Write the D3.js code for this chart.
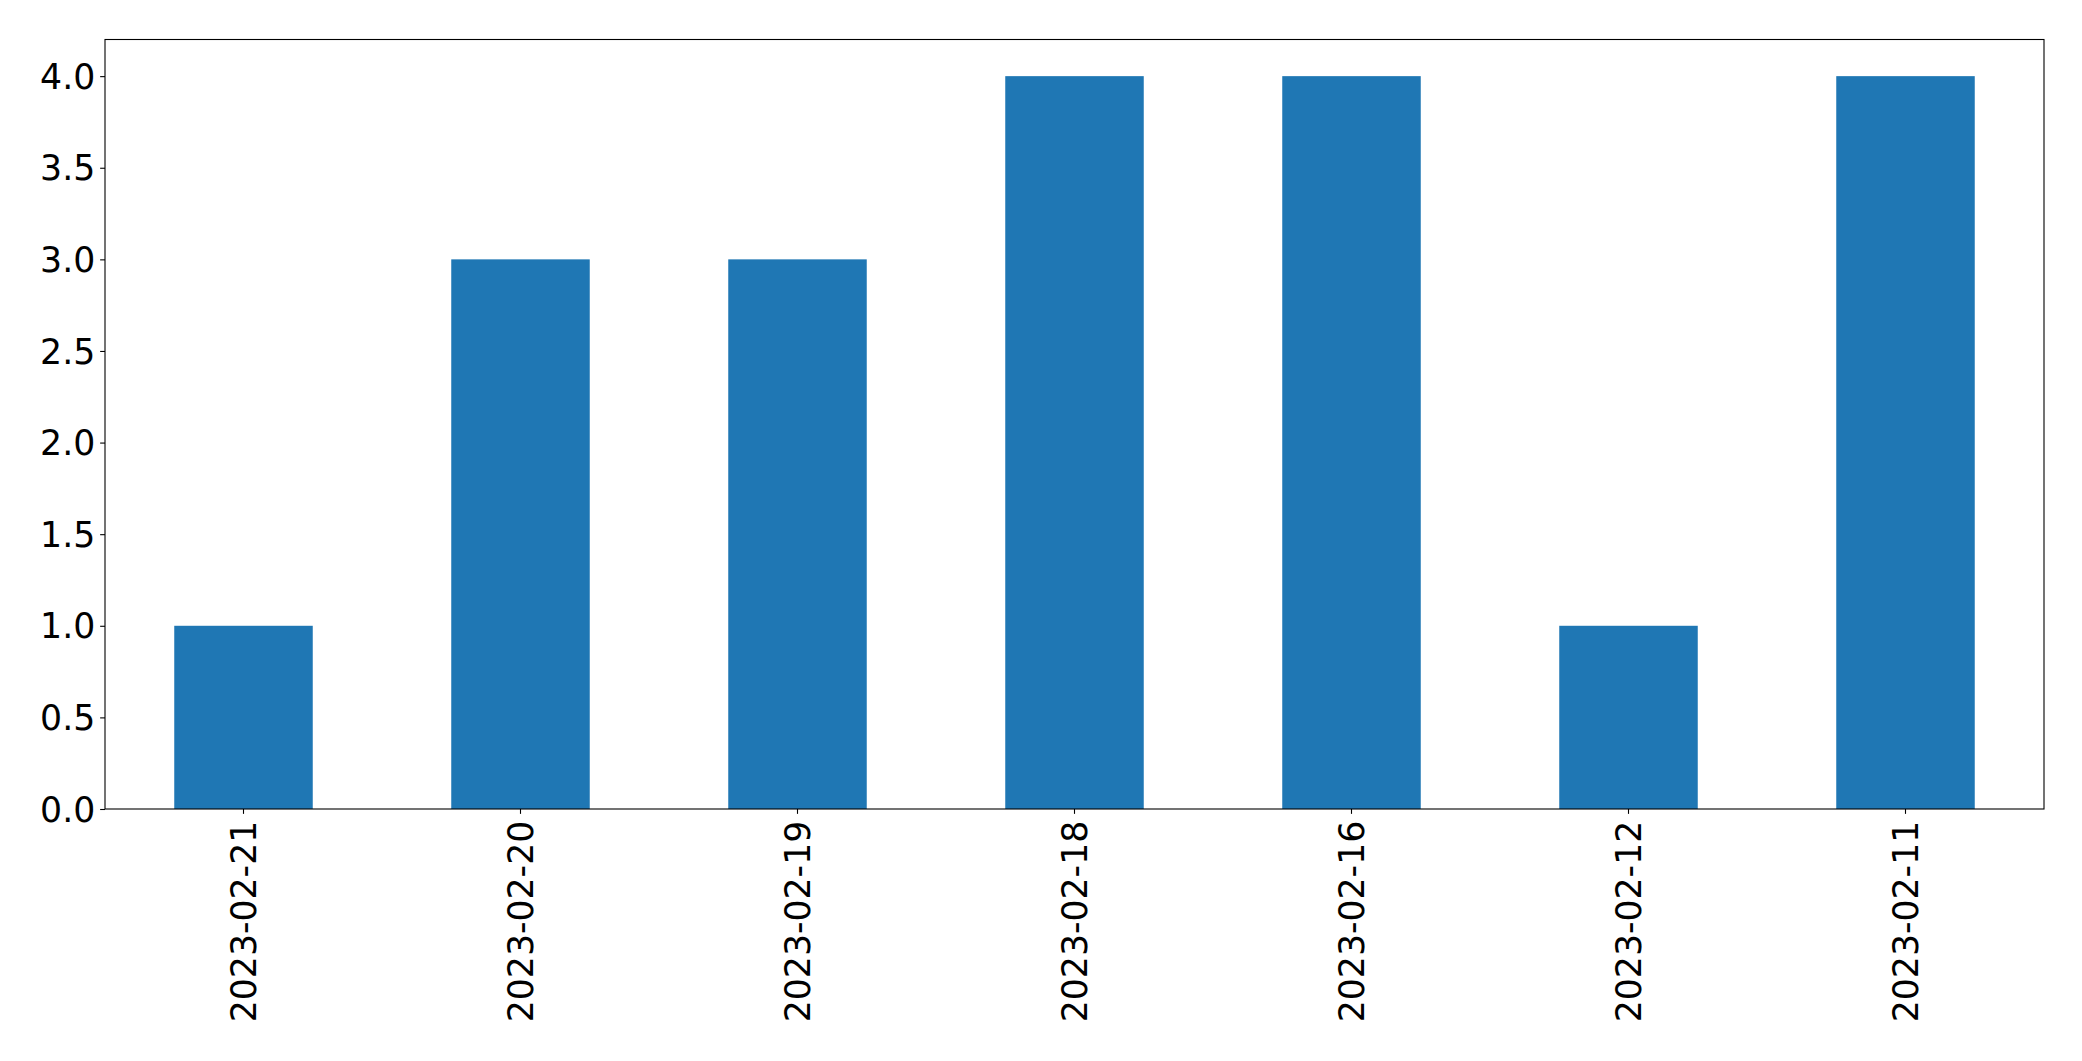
<!DOCTYPE html>
<html>
<head>
<meta charset="utf-8">
<script src="https://cdn.jsdelivr.net/npm/d3@7"></script>
<style>
  html, body { margin: 0; padding: 0; background: #fff; }
  svg { display: block; }
  text { font-family: "DejaVu Sans", sans-serif; fill: #000; }
</style>
</head>
<body>
<svg id="chart" width="2082" height="1061"></svg>
<script>
const categories = ["2023-02-21", "2023-02-20", "2023-02-19", "2023-02-18", "2023-02-16", "2023-02-12", "2023-02-11"];
const values = [1, 3, 3, 4, 4, 1, 4];
const yTicks = [0, 0.5, 1, 1.5, 2, 2.5, 3, 3.5, 4];

const W = 2082, H = 1061;
const margin = { left: 105, right: W - 2044, top: 39.5, bottom: H - 809 };
const fontSize = 34.7;
const tickLen = 4.86, tickPad = 4.86;

const svg = d3.select("#chart");
const x = d3.scaleBand().domain(categories).range([margin.left, W - margin.right])
  .paddingInner(0.5).paddingOuter(0.25);
const y = d3.scaleLinear().domain([0, 4.2]).range([H - margin.bottom, margin.top]);

svg.append("g").selectAll("rect").data(categories).join("rect")
  .attr("x", d => x(d))
  .attr("width", x.bandwidth())
  .attr("y", (d, i) => y(values[i]))
  .attr("height", (d, i) => y(0) - y(values[i]))
  .attr("fill", "#1f77b4");

// frame
svg.append("rect")
  .attr("x", margin.left).attr("y", margin.top)
  .attr("width", W - margin.right - margin.left)
  .attr("height", y(0) - margin.top)
  .attr("fill", "none").attr("stroke", "#000").attr("stroke-width", 1.1);

// y axis
const yAxis = svg.append("g").attr("transform", `translate(${margin.left},0)`)
  .call(d3.axisLeft(y).tickValues(yTicks).tickFormat(d3.format(".1f")).tickSize(tickLen).tickPadding(tickPad));
yAxis.select(".domain").remove();
yAxis.selectAll(".tick line").attr("stroke", "#000").attr("stroke-width", 1.1);
yAxis.selectAll(".tick text").attr("font-size", fontSize).attr("font-family", "DejaVu Sans").attr("dy", "0.35em").attr("fill", "#000");

// x axis
const xAxis = svg.append("g").attr("transform", `translate(0,${y(0)})`)
  .call(d3.axisBottom(x).tickSize(tickLen).tickPadding(tickPad));
xAxis.select(".domain").remove();
xAxis.selectAll(".tick line").attr("stroke", "#000").attr("stroke-width", 1.1);
xAxis.selectAll(".tick text")
  .attr("font-size", fontSize).attr("font-family", "DejaVu Sans").attr("fill", "#000")
  .attr("transform", "rotate(-90)")
  .attr("text-anchor", "end")
  .attr("x", -(tickLen + tickPad + 2))
  .attr("y", 0)
  .attr("dy", "0.35em");
</script>
</body>
</html>
